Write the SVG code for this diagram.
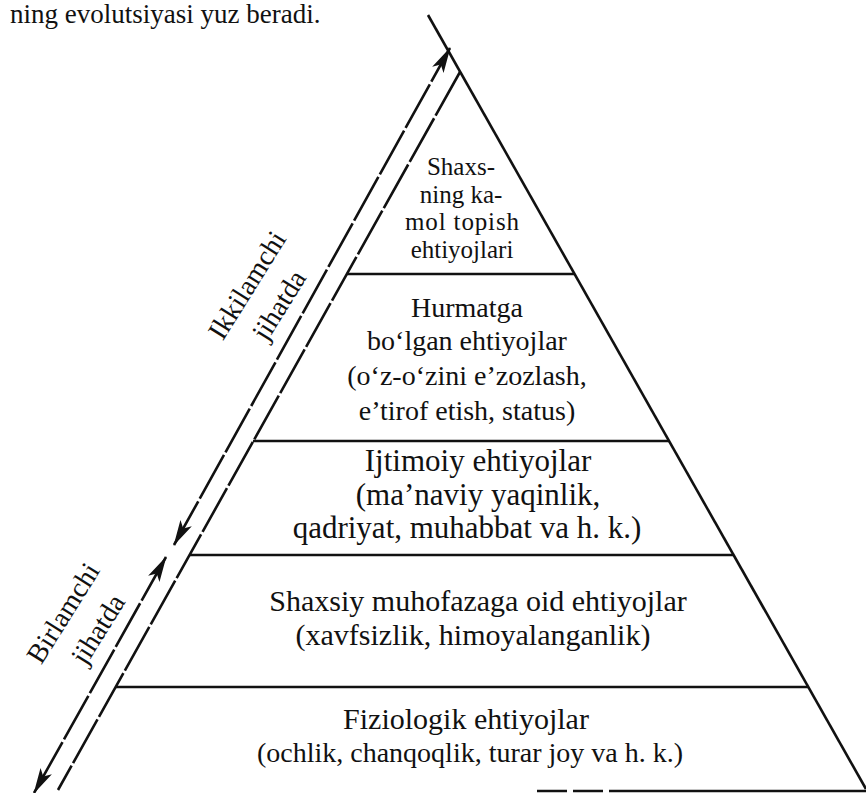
<svg xmlns="http://www.w3.org/2000/svg" width="866" height="793" viewBox="0 0 866 793">
<style>
  .t { font-family: "Liberation Serif", "Times New Roman", serif; fill: #111; text-anchor: middle; }
  .s25 { font-size: 25px; }
  .s28 { font-size: 28px; }
  .s30 { font-size: 30px; }
  .s31 { font-size: 31px; }
  .edge { stroke: #111; stroke-width: 2.6; fill: none; }
  .dash { stroke-dasharray: 50 3; }
  .tier { stroke: #111; stroke-width: 2.6; fill: none; }
</style>
<defs>
  <marker id="ah" viewBox="0 0 26 14" refX="25" refY="7" markerWidth="26" markerHeight="14" markerUnits="userSpaceOnUse" orient="auto-start-reverse">
    <path d="M0,0.5 L26,7 L0,13.5 L6,7 Z" fill="#111"/>
  </marker>
</defs>
<rect width="866" height="793" fill="#fff"/>

<text class="t" x="10" y="23" style="text-anchor:start;font-size:27px">ning evolutsiyasi yuz beradi.</text>

<g id="pyramid">
  <line class="edge" x1="428" y1="15" x2="866" y2="789"/>
  <line class="edge dash" x1="460" y1="72" x2="58" y2="790"/>
  <line class="tier" x1="347" y1="274" x2="575" y2="274"/>
  <line class="tier" x1="253" y1="441" x2="669" y2="441"/>
  <line class="tier" x1="190" y1="555" x2="733" y2="555"/>
  <line class="tier" x1="116" y1="687" x2="808" y2="687"/>
  <line class="tier" x1="537" y1="791" x2="866" y2="791" stroke-dasharray="30 6 30 6 300"/>
</g>

<g id="connectors">
  <line class="edge dash" x1="174" y1="545" x2="450" y2="48" marker-start="url(#ah)" marker-end="url(#ah)"/>
  <line class="edge dash" x1="166" y1="557" x2="34" y2="793" marker-start="url(#ah)" marker-end="url(#ah)"/>
</g>

<g id="label-ikkilamchi">
  <text class="t s28" transform="translate(255,290) rotate(-58)">Ikkilamchi</text>
  <text class="t s28" transform="translate(287,310) rotate(-58)">jihatda</text>
</g>
<g id="label-birlamchi">
  <text class="t s28" transform="translate(71,618) rotate(-58)">Birlamchi</text>
  <text class="t s28" transform="translate(106,634) rotate(-58)">jihatda</text>
</g>

<g id="tier1">
  <text class="t s25" x="461" y="175">Shaxs-</text>
  <text class="t s25" x="461" y="203">ning ka-</text>
  <text class="t s25" x="462" y="230" textLength="114" lengthAdjust="spacing">mol topish</text>
  <text class="t s25" x="462" y="258">ehtiyojlari</text>
</g>
<g id="tier2">
  <text class="t s28" x="467" y="317">Hurmatga</text>
  <text class="t s28" x="467" y="350">bo‘lgan ehtiyojlar</text>
  <text class="t s28" x="467" y="385">(o‘z-o‘zini e’zozlash,</text>
  <text class="t s28" x="467" y="420">e’tirof etish, status)</text>
</g>
<g id="tier3">
  <text class="t s31" x="478" y="471">Ijtimoiy ehtiyojlar</text>
  <text class="t s31" x="478" y="505">(ma’naviy yaqinlik,</text>
  <text class="t s31" x="467" y="538">qadriyat, muhabbat va h. k.)</text>
</g>
<g id="tier4">
  <text class="t s30" x="478" y="611">Shaxsiy muhofazaga oid ehtiyojlar</text>
  <text class="t s30" x="473" y="645">(xavfsizlik, himoyalanganlik)</text>
</g>
<g id="tier5">
  <text class="t s30" x="466" y="729">Fiziologik ehtiyojlar</text>
  <text class="t s28" x="470" y="762">(ochlik, chanqoqlik, turar joy va h. k.)</text>
</g>
</svg>
